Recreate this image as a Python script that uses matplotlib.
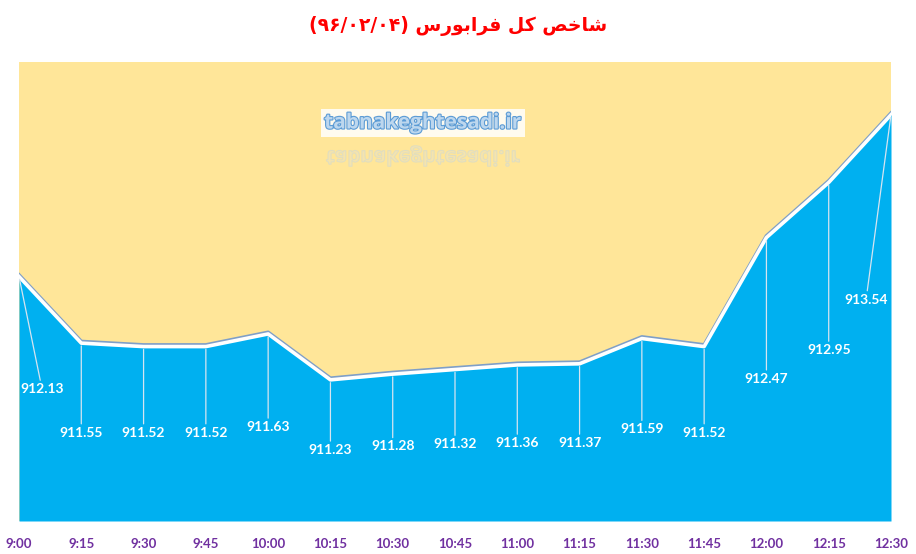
import matplotlib
matplotlib.use("Agg")
import matplotlib.pyplot as plt
import matplotlib.patheffects as pe
from matplotlib.textpath import TextPath
from matplotlib.font_manager import FontProperties
from matplotlib.patches import PathPatch
from matplotlib.transforms import Affine2D

# data
times = ["9:00", "9:15", "9:30", "9:45", "10:00", "10:15", "10:30", "10:45",
         "11:00", "11:15", "11:30", "11:45", "12:00", "12:15", "12:30"]
values = [912.13, 911.55, 911.52, 911.52, 911.63, 911.23, 911.28, 911.32,
          911.36, 911.37, 911.59, 911.52, 912.47, 912.95, 913.54]
# where each data label sits (x in category units, y in index units)
label_x = [0.37, 1, 2, 3, 4, 5, 6, 7, 8, 9, 10, 11, 12, 13, 13.6]
label_y = [911.15, 910.77, 910.77, 910.77, 910.82, 910.62, 910.65, 910.67,
           910.68, 910.68, 910.80, 910.77, 911.24, 911.49, 911.93]

# title, already in visual (left-to-right) order with joined letter forms
TITLE = "(۹۶/۰۲/۰۴) " + "ﺱﺭﻮﺑﺍﺮﻓ" + " " + "ﻞﮐ" + " " + "ﺺﺧﺎﺷ"
WATERMARK = "tabnakeghtesadi.ir"

BLUE = "#00B0F0"
YELLOW = "#FFE699"
PURPLE = "#7030A0"

W, H = 916, 554
fig = plt.figure(figsize=(W / 100, H / 100), dpi=100)
ax = fig.add_axes([19 / W, (H - 521) / H, (891 - 19) / W, (521 - 62) / H])
ax.set_facecolor(YELLOW)

x = list(range(len(values)))
ax.fill_between(x, 910, values, color=BLUE, lw=0, zorder=2)
ax.plot(x, values, color="white", lw=2.6, zorder=4,
        path_effects=[pe.SimpleLineShadow(offset=(0, 1.2), shadow_color="#7F9FC8", alpha=1),
                      pe.Normal()])

for xi, v, lx, ly in zip(x, values, label_x, label_y):
    ax.annotate(f"{v:.2f}", xy=(xi, v), xytext=(lx, ly), ha="center", va="center",
                fontsize=10, fontweight="bold", color="white", family="Lato", zorder=5,
                arrowprops=dict(arrowstyle="-", color="#D6E4F0", lw=0.9,
                                shrinkA=0, shrinkB=2))

ax.set_xlim(0, len(values) - 1)
ax.set_ylim(910, 914)
ax.set_xticks(x)
ax.set_xticklabels(times, color=PURPLE, fontweight="bold", fontsize=9.5, family="Lato")
ax.tick_params(axis="x", length=0, pad=12)
ax.set_yticks([])
for s in ax.spines.values():
    s.set_visible(False)

fig.text(458 / W, 1 - 26 / H, TITLE, ha="center", va="center", color="#FF0000",
         fontsize=13.5, fontweight="bold", family=["DejaVu Sans"])

# watermark with its faded reflection
fig.text(423 / W, 1 - 123 / H, WATERMARK, ha="center", va="center", fontsize=15,
         fontweight="bold", family="Open Sans", color="#BDD7EE", zorder=6,
         bbox=dict(boxstyle="square,pad=0.15", fc="white", ec="none", alpha=0.85),
         path_effects=[pe.withStroke(linewidth=1.6, foreground="#5B9BD5")])
fp = FontProperties(family="Open Sans", weight="bold")
tp = TextPath((0, 0), WATERMARK, size=20.5, prop=fp)
bb = tp.get_extents()
tr = (Affine2D().translate(-(bb.x0 + bb.x1) / 2, -(bb.y0 + bb.y1) / 2)
      .scale(1, -1).translate(423, H - 156))
patch = PathPatch(tr.transform_path(tp), fc="#EDE3BC", ec="#CDD8D6", lw=0.8,
                  alpha=0.55, transform=None, zorder=3)
fig.add_artist(patch)

fig.savefig("out.png", dpi=100)
